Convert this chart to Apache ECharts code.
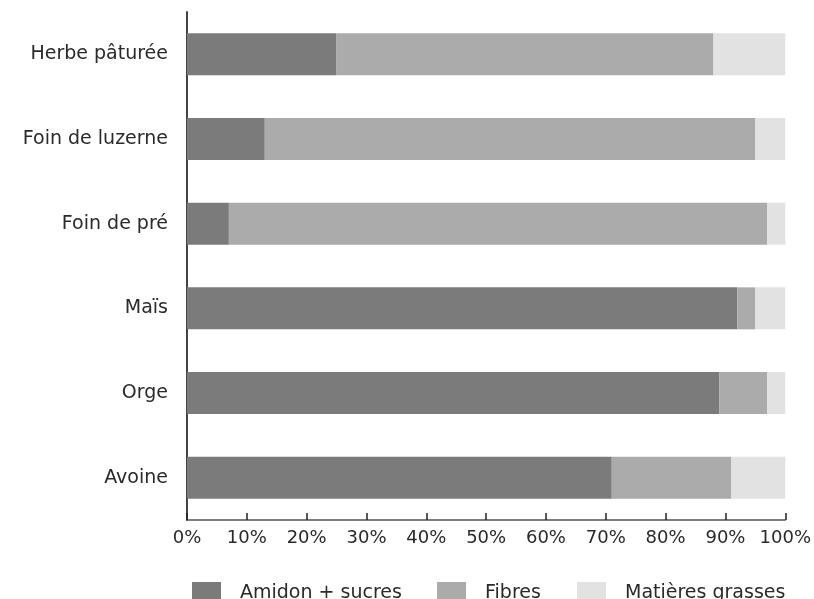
<!DOCTYPE html>
<html>
<head>
<meta charset="utf-8">
<script src="https://cdn.jsdelivr.net/npm/echarts@6/dist/echarts.min.js"></script>
<style>html,body{margin:0;padding:0;background:#fff}#c{width:814px;height:599px}</style>
</head>
<body>
<div id="c"></div>
<script>
const categories = ['Avoine', 'Orge', 'Maïs', 'Foin de pré', 'Foin de luzerne', 'Herbe pâturée'];
const amidonSucres = [71, 89, 92, 7, 13, 25];
const fibres = [20, 8, 3, 90, 82, 63];
const matieresGrasses = [9, 3, 5, 3, 5, 12];
const seriesNames = ['Amidon + sucres', 'Fibres', 'Matières grasses'];

const colors = ['#7b7b7b', '#ababab', '#e2e2e2'];
const font = 'DejaVu Sans';
const chart = echarts.init(document.getElementById('c'));
const mkLegend = (name, left) => ({
  data: [name], left: left, top: 577, itemWidth: 29, itemHeight: 22, icon: 'rect',
  itemGap: 0, textStyle: {fontFamily: font, fontSize: 19, color: '#2a2a2a', padding: [0, 0, 0, 14]}
});
chart.setOption({
  animation: false,
  color: colors,
  grid: {left: 187, right: 28, top: 12, bottom: 79},
  legend: [mkLegend(seriesNames[0], 187), mkLegend(seriesNames[1], 432), mkLegend(seriesNames[2], 572)],
  xAxis: {
    type: 'value', min: 0, max: 100, interval: 10,
    axisLine: {show: true, lineStyle: {color: '#555', width: 1.5}},
    axisTick: {show: true, inside: true, length: 7, lineStyle: {color: '#222', width: 1.5}},
    splitLine: {show: false},
    axisLabel: {fontFamily: font, fontSize: 18, color: '#2a2a2a', margin: 9, formatter: v => v + '%'}
  },
  yAxis: {
    type: 'category', data: categories,
    axisLine: {show: true, lineStyle: {color: '#444', width: 2}},
    axisTick: {show: false},
    axisLabel: {fontFamily: font, fontSize: 19, color: '#2a2a2a', margin: 19}
  },
  series: [
    {name: seriesNames[0], type: 'bar', stack: 's', data: amidonSucres, barWidth: 42},
    {name: seriesNames[1], type: 'bar', stack: 's', data: fibres, barWidth: 42},
    {name: seriesNames[2], type: 'bar', stack: 's', data: matieresGrasses, barWidth: 42}
  ]
});
</script>
</body>
</html>
